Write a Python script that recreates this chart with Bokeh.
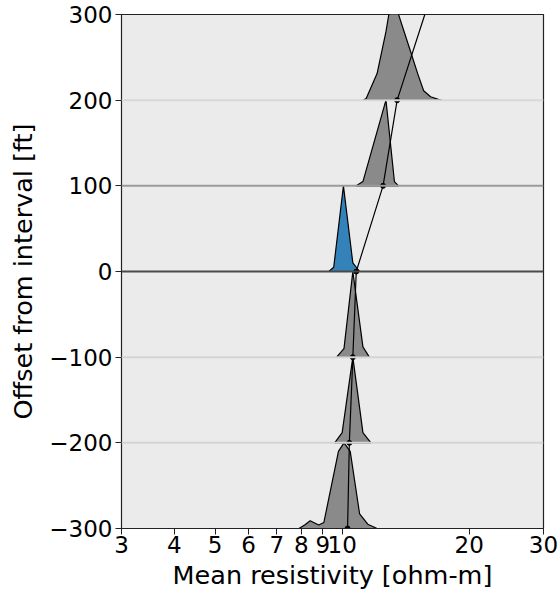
from bokeh.plotting import figure
from bokeh.models import FixedTicker, Span, ColumnDataSource
from bokeh.embed import file_html
from bokeh.resources import INLINE

# ---- data ----
interval_bases = [-300, -200, -100, 0, 100, 200]
interval_height = 100

dens_m300_x = [7.9, 8.15, 8.4, 8.8, 9.05, 9.8, 10.1, 10.45, 11.0, 11.5, 12.1]
dens_m300_h = [0.0, 0.04, 0.09, 0.04, 0.07, 0.9, 1.0, 0.9, 0.17, 0.05, 0.0]
dens_m200_x = [9.6, 10.0, 10.6, 11.2, 11.7]
dens_m200_h = [0.0, 0.12, 1.0, 0.12, 0.0]
dens_m100_x = [9.7, 10.1, 10.6, 11.2, 11.6]
dens_m100_h = [0.0, 0.1, 1.0, 0.12, 0.0]
dens_0_x = [9.3, 9.55, 10.07, 10.6, 11.0]
dens_0_h = [0.0, 0.05, 1.0, 0.1, 0.0]
dens_100_x = [10.8, 11.2, 12.7, 13.3, 13.6]
dens_100_h = [0.0, 0.05, 1.0, 0.05, 0.0]
dens_200_x = [11.2, 11.4, 12.1, 12.7, 12.9, 13.5, 14.0, 14.5, 15.1, 15.6, 16.2, 16.9, 17.2]
dens_200_h = [0.0, 0.02, 0.31, 0.8, 1.0, 1.05, 0.81, 0.58, 0.31, 0.11, 0.04, 0.01, 0.0]

mean_depth = [-300, -200, -100, 0, 100, 200, 300]
mean_res = [10.3, 10.4, 10.6, 10.8, 12.5, 13.5, 15.7]

x_ticks = [3, 4, 5, 6, 7, 8, 9, 10, 20, 30]
y_ticks = [-300, -200, -100, 0, 100, 200, 300]

densities = [
    (dens_m300_x, dens_m300_h, -300, "#808080"),
    (dens_m200_x, dens_m200_h, -200, "#808080"),
    (dens_m100_x, dens_m100_h, -100, "#808080"),
    (dens_0_x, dens_0_h, 0, "#1f77b4"),
    (dens_100_x, dens_100_h, 100, "#808080"),
    (dens_200_x, dens_200_h, 200, "#808080"),
]

FONT = "DejaVu Sans"

p = figure(width=560, height=593, x_axis_type="log",
           x_range=(3, 30), y_range=(-300, 300),
           output_backend="svg", toolbar_location=None,
           min_border_right=17, min_border_top=14, min_border_left=121,
           min_border_bottom=65)

p.background_fill_color = "#ebebeb"
p.border_fill_color = "white"
p.outline_line_color = "#222222"
p.outline_line_width = 1.2
p.grid.visible = False

# horizontal interval lines
line_styles = {-200: ("#d4d4d4", 2), -100: ("#d4d4d4", 2), 0: ("#4a4a4a", 2),
               100: ("#9a9a9a", 2), 200: ("#d8d8d8", 2)}
for yv, (c, w) in line_styles.items():
    p.add_layout(Span(location=yv, dimension="width", line_color=c, line_width=w))

for xs, hs, base, col in densities:
    ys = [base + h * interval_height for h in hs]
    src = ColumnDataSource(dict(x=xs, y=ys))
    p.patch("x", "y", source=src, fill_color=col, fill_alpha=0.9,
            line_color="black", line_width=1.2)

msrc = ColumnDataSource(dict(x=mean_res, y=mean_depth))
p.line("x", "y", source=msrc, line_color="black", line_width=1.2)
dsrc = ColumnDataSource(dict(x=mean_res[:-1], y=mean_depth[:-1]))
p.scatter("x", "y", source=dsrc, size=5, color="black")

p.xaxis.ticker = FixedTicker(ticks=x_ticks, minor_ticks=[])
p.xaxis.major_label_overrides = {t: str(t) for t in x_ticks}
p.yaxis.ticker = FixedTicker(ticks=y_ticks, minor_ticks=[])
p.yaxis.major_label_overrides = {t: (("\u2212" + str(-t)) if t < 0 else str(t)) for t in y_ticks}

for ax in (p.xaxis, p.yaxis):
    ax.major_label_text_font = FONT
    ax.major_label_text_font_size = "23px"
    ax.major_label_text_color = "black"
    ax.axis_label_text_font = FONT
    ax.axis_label_text_font_size = "25.5px"
    ax.axis_label_text_font_style = "normal"
    ax.axis_label_text_color = "black"
    ax.axis_line_color = "#222222"
    ax.major_tick_line_color = "#222222"
    ax.major_tick_out = 6
    ax.major_tick_in = 0
    ax.minor_tick_line_color = None

p.xaxis.axis_label = "Mean resistivity [ohm-m]"
p.yaxis.axis_label = "Offset from interval [ft]"
p.xaxis.major_label_standoff = 1
p.yaxis.major_label_standoff = 3
p.xaxis.axis_label_standoff = 4
p.yaxis.axis_label_standoff = 8

open("out.html", "w").write(file_html(p, INLINE))
